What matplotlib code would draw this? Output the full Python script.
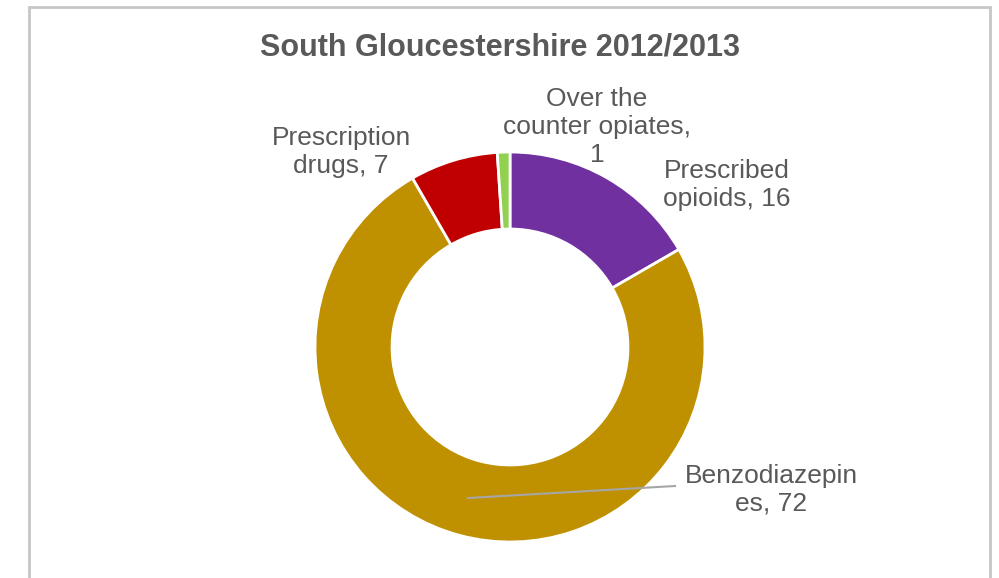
import matplotlib
matplotlib.use("Agg")
import matplotlib.pyplot as plt
from matplotlib.patches import Rectangle

plt.rcParams['font.family'] = ['Liberation Sans', 'DejaVu Sans']

title = "South Gloucestershire 2012/2013"
categories = ["Prescribed opioids", "Benzodiazepines", "Prescription drugs", "Over the counter opiates"]
values = [16, 72, 7, 1]
colors = ["#7030A0", "#BF9000", "#C00000", "#92D050"]
label_texts = ["Prescribed\nopioids, 16", "Benzodiazepin\nes, 72", "Prescription\ndrugs, 7", "Over the\ncounter opiates,\n1"]

W, H = 999, 578
fig = plt.figure(figsize=(W / 100, H / 100), dpi=100)
ax = fig.add_axes([0, 0, 1, 1])

# chart frame
ax.add_patch(Rectangle((29, -20), 961, 571 + 20, fill=False, edgecolor="#c6c6c6", lw=2))

cx, cy, R = 510, H - 347, 195
ax.pie(values, colors=colors, startangle=90, counterclock=False, center=(cx, cy), radius=R,
       wedgeprops=dict(width=R * 0.395, edgecolor='white', linewidth=2), frame=True)
ax.set_xlim(0, W)
ax.set_ylim(0, H)
ax.set_aspect('equal')
ax.axis('off')

tc = "#595959"
ax.text(500, H - 47, title, ha='center', va='center', fontsize=22, fontweight='bold', color=tc)

label_pos = [(727, H - 185), (771, H - 490), (341, H - 152), (597, H - 127)]
for (x, y), t in zip(label_pos, label_texts):
    ax.text(x, y, t, ha='center', va='center', fontsize=19, color=tc, linespacing=1.2)

# leader line for Benzodiazepines
ax.plot([468, 675], [H - 498, H - 486], color="#a6a6a6", lw=1.5)

fig.savefig("out.png", dpi=100)
